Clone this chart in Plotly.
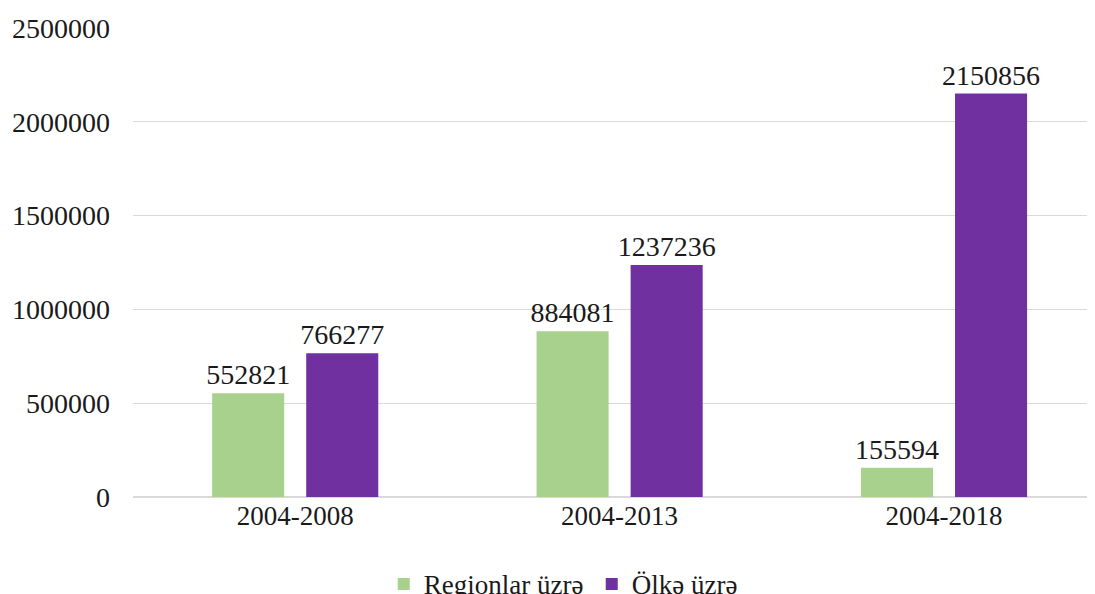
import plotly.graph_objects as go

categories = ["2004-2008", "2004-2013", "2004-2018"]
regionlar = [552821, 884081, 155594]
olke = [766277, 1237236, 2150856]
series_names = ["Regionlar üzrə", "Ölkə üzrə"]
colors = ["#A9D18E", "#7030A0"]

font_family = "Liberation Serif"

fig = go.Figure()
for name, vals, col in zip(series_names, [regionlar, olke], colors):
    fig.add_trace(go.Bar(
        x=categories, y=vals, name=name,
        marker=dict(color=col, line=dict(width=0)),
        text=[str(v) for v in vals], textposition="outside",
        textfont=dict(family=font_family, size=28, color="#1a1a1a"),
        constraintext="none",
        cliponaxis=False,
    ))

fig.update_layout(
    width=1087, height=586,
    margin=dict(l=125, r=5, t=20, b=97, autoexpand=False),
    paper_bgcolor="white", plot_bgcolor="white",
    barmode="group", bargap=0.42, bargroupgap=0.234,
    font=dict(family=font_family, size=27, color="#1a1a1a"),
    showlegend=True,
    legend=dict(orientation="h", x=0.262, xanchor="left", y=-0.134, yanchor="top",
                font=dict(family=font_family, size=27, color="#1a1a1a"),
                itemwidth=30, traceorder="normal", entrywidth=163),
    xaxis=dict(range=[-0.5, 2.45], showgrid=False, showline=False, ticks="",
               tickfont=dict(family=font_family, size=27, color="#1a1a1a")),
    yaxis=dict(range=[0, 2500000], dtick=500000, tickformat="d", showgrid=True,
               gridcolor="#D9D9D9", gridwidth=1, zeroline=True, zerolinecolor="#D9D9D9",
               showline=False, ticks="", ticklabelstandoff=22,
               tickfont=dict(family=font_family, size=28, color="#1a1a1a")),
)

fig.write_html("out.html")
